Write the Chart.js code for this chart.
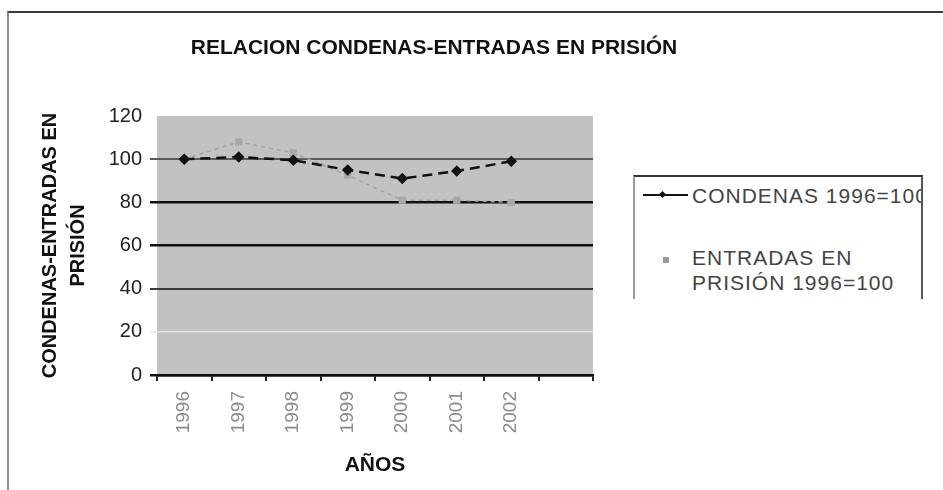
<!DOCTYPE html>
<html>
<head>
<meta charset="utf-8">
<script src="https://cdn.jsdelivr.net/npm/chart.js@4/dist/chart.umd.min.js"></script>
<style>
  html, body { margin: 0; padding: 0; background: #fff; }
  body { width: 943px; height: 490px; position: relative; overflow: hidden; font-family: "Liberation Sans", Arial, sans-serif; }
  #frame { position: absolute; left: 7px; top: 11px; width: 940px; height: 490px; border-top: 2px solid #3a3a3a; border-left: 2px solid #8a8a8a; box-sizing: border-box; }
  #wrap { position: absolute; left: 0; top: 0; width: 868px; height: 490px; }
  #legend { position: absolute; left: 633px; top: 175px; width: 290px; height: 124px; box-sizing: border-box;
            border-top: 2px solid #333; border-left: 2px solid #9a9a9a; border-right: 2px solid #555; overflow: hidden; background: #fff; }
  .ltxt { position: absolute; white-space: nowrap; font-size: 21px; letter-spacing: 1px; color: #444; line-height: 25px; }
</style>
</head>
<body>
<div id="frame"></div>
<div id="wrap"><canvas id="c" width="868" height="490"></canvas></div>
<div id="legend">
  <div style="position:absolute;left:8px;top:17px;width:45px;height:1.5px;background:#111;"></div>
  <div style="position:absolute;left:25px;top:15px;width:5px;height:5px;background:#111;transform:rotate(45deg);"></div>
  <div class="ltxt" id="l1" style="left:57px;top:6px;"></div>
  <div style="position:absolute;left:28px;top:80px;width:6px;height:6px;background:#9a9a9a;"></div>
  <div class="ltxt" id="l2" style="left:57px;top:68px;"></div>
</div>
<script>
// ---- data ----
const categories = ["1996", "1997", "1998", "1999", "2000", "2001", "2002", ""];
const condenas = [100, 101, 99.5, 95, 91, 94.5, 99];
const entradas = [100, 108, 103, 92.5, 81, 81, 80];
const seriesNames = ["CONDENAS 1996=100", "ENTRADAS EN PRISIÓN 1996=100"];
const legendLines2 = ["ENTRADAS EN", "PRISIÓN 1996=100"];
const yTicks = [0, 20, 40, 60, 80, 100, 120];
const chartTitle = "RELACION CONDENAS-ENTRADAS EN PRISIÓN";
const yTitle = ["CONDENAS-ENTRADAS EN", "PRISIÓN"];
const xTitle = "AÑOS";

document.getElementById('l1').textContent = seriesNames[0];
document.getElementById('l2').innerHTML = legendLines2.join('<br>');

const gridColors = {120: 'rgba(0,0,0,0)', 100: '#5a5a5a', 80: '#111', 60: '#111', 40: '#3a3a3a', 20: '#e4e4e4', 0: '#111'};
const gridWidths = {120: 0, 100: 2, 80: 2.5, 60: 2.5, 40: 2, 20: 1.5, 0: 2.5};

const plotBg = {
  id: 'plotBg',
  beforeDraw(chart) {
    const {ctx, chartArea: a} = chart;
    ctx.save();
    ctx.fillStyle = '#c2c2c2';
    ctx.fillRect(a.left, a.top, a.right - a.left, a.bottom - a.top);
    ctx.restore();
  }
};

new Chart(document.getElementById('c'), {
  type: 'line',
  data: {
    labels: categories,
    datasets: [
      {
        label: seriesNames[0],
        data: condenas,
        borderColor: '#111',
        backgroundColor: '#111',
        borderWidth: 2.5,
        borderDash: [10, 6],
        pointStyle: 'rectRot',
        pointRadius: 4,
        pointBackgroundColor: '#111',
        pointBorderColor: '#111',
        tension: 0,
        order: 1
      },
      {
        label: seriesNames[1],
        data: entradas,
        borderColor: '#a2a2a2',
        backgroundColor: '#a2a2a2',
        borderWidth: 1.5,
        borderDash: [4, 4],
        pointStyle: 'rect',
        pointRadius: 4,
        pointBackgroundColor: '#a8a8a8',
        pointBorderColor: '#a8a8a8',
        tension: 0,
        order: 2
      }
    ]
  },
  options: {
    responsive: false,
    animation: false,
    devicePixelRatio: 1,
    layout: { padding: 0 },
    plugins: {
      legend: { display: false },
      tooltip: { enabled: false },
      title: {
        display: true,
        text: chartTitle,
        color: '#111',
        font: { family: '"Liberation Sans", Arial, sans-serif', size: 21, weight: 'bold', lineHeight: 1.2 },
        padding: { top: 35.4, bottom: 55.4 }
      }
    },
    scales: {
      x: {
        type: 'category',
        offset: true,
        afterFit(s) { s.height = 115; },
        border: { display: true, color: '#111', width: 2.5 },
        grid: { offset: true, drawOnChartArea: false, drawTicks: true, tickLength: 6, color: '#222', lineWidth: 2 },
        ticks: {
          autoSkip: false, minRotation: 90, maxRotation: 90, padding: 10,
          color: '#8a8a8a',
          font: { family: '"Liberation Sans", Arial, sans-serif', size: 19 }
        },
        title: {
          display: true, text: xTitle, color: '#111',
          font: { family: '"Liberation Sans", Arial, sans-serif', size: 21, weight: 'bold', lineHeight: 1.2 },
          padding: { top: 0, bottom: 12.4 }
        }
      },
      y: {
        min: 0, max: 120,
        afterFit(s) { s.width = 157; },
        afterBuildTicks(s) { s.ticks = yTicks.map(v => ({value: v})); },
        border: { display: false },
        grid: {
          drawOnChartArea: true, drawTicks: true, tickLength: 7,
          color: ctx => gridColors[ctx.tick.value],
          lineWidth: ctx => gridWidths[ctx.tick.value]
        },
        ticks: {
          padding: 8, color: '#222',
          font: { family: '"Liberation Sans", Arial, sans-serif', size: 20 }
        },
        title: {
          display: true, text: yTitle, color: '#111',
          font: { family: '"Liberation Sans", Arial, sans-serif', size: 20, weight: 'bold', lineHeight: 1.4 },
          padding: { top: 36, bottom: 0 }
        }
      },
      yRight: {
        position: 'right',
        min: 0, max: 120,
        afterFit(s) { s.width = 275; },
        border: { display: false },
        grid: { display: false, drawOnChartArea: false },
        ticks: { display: false }
      }
    }
  },
  plugins: [plotBg]
});
</script>
</body>
</html>
